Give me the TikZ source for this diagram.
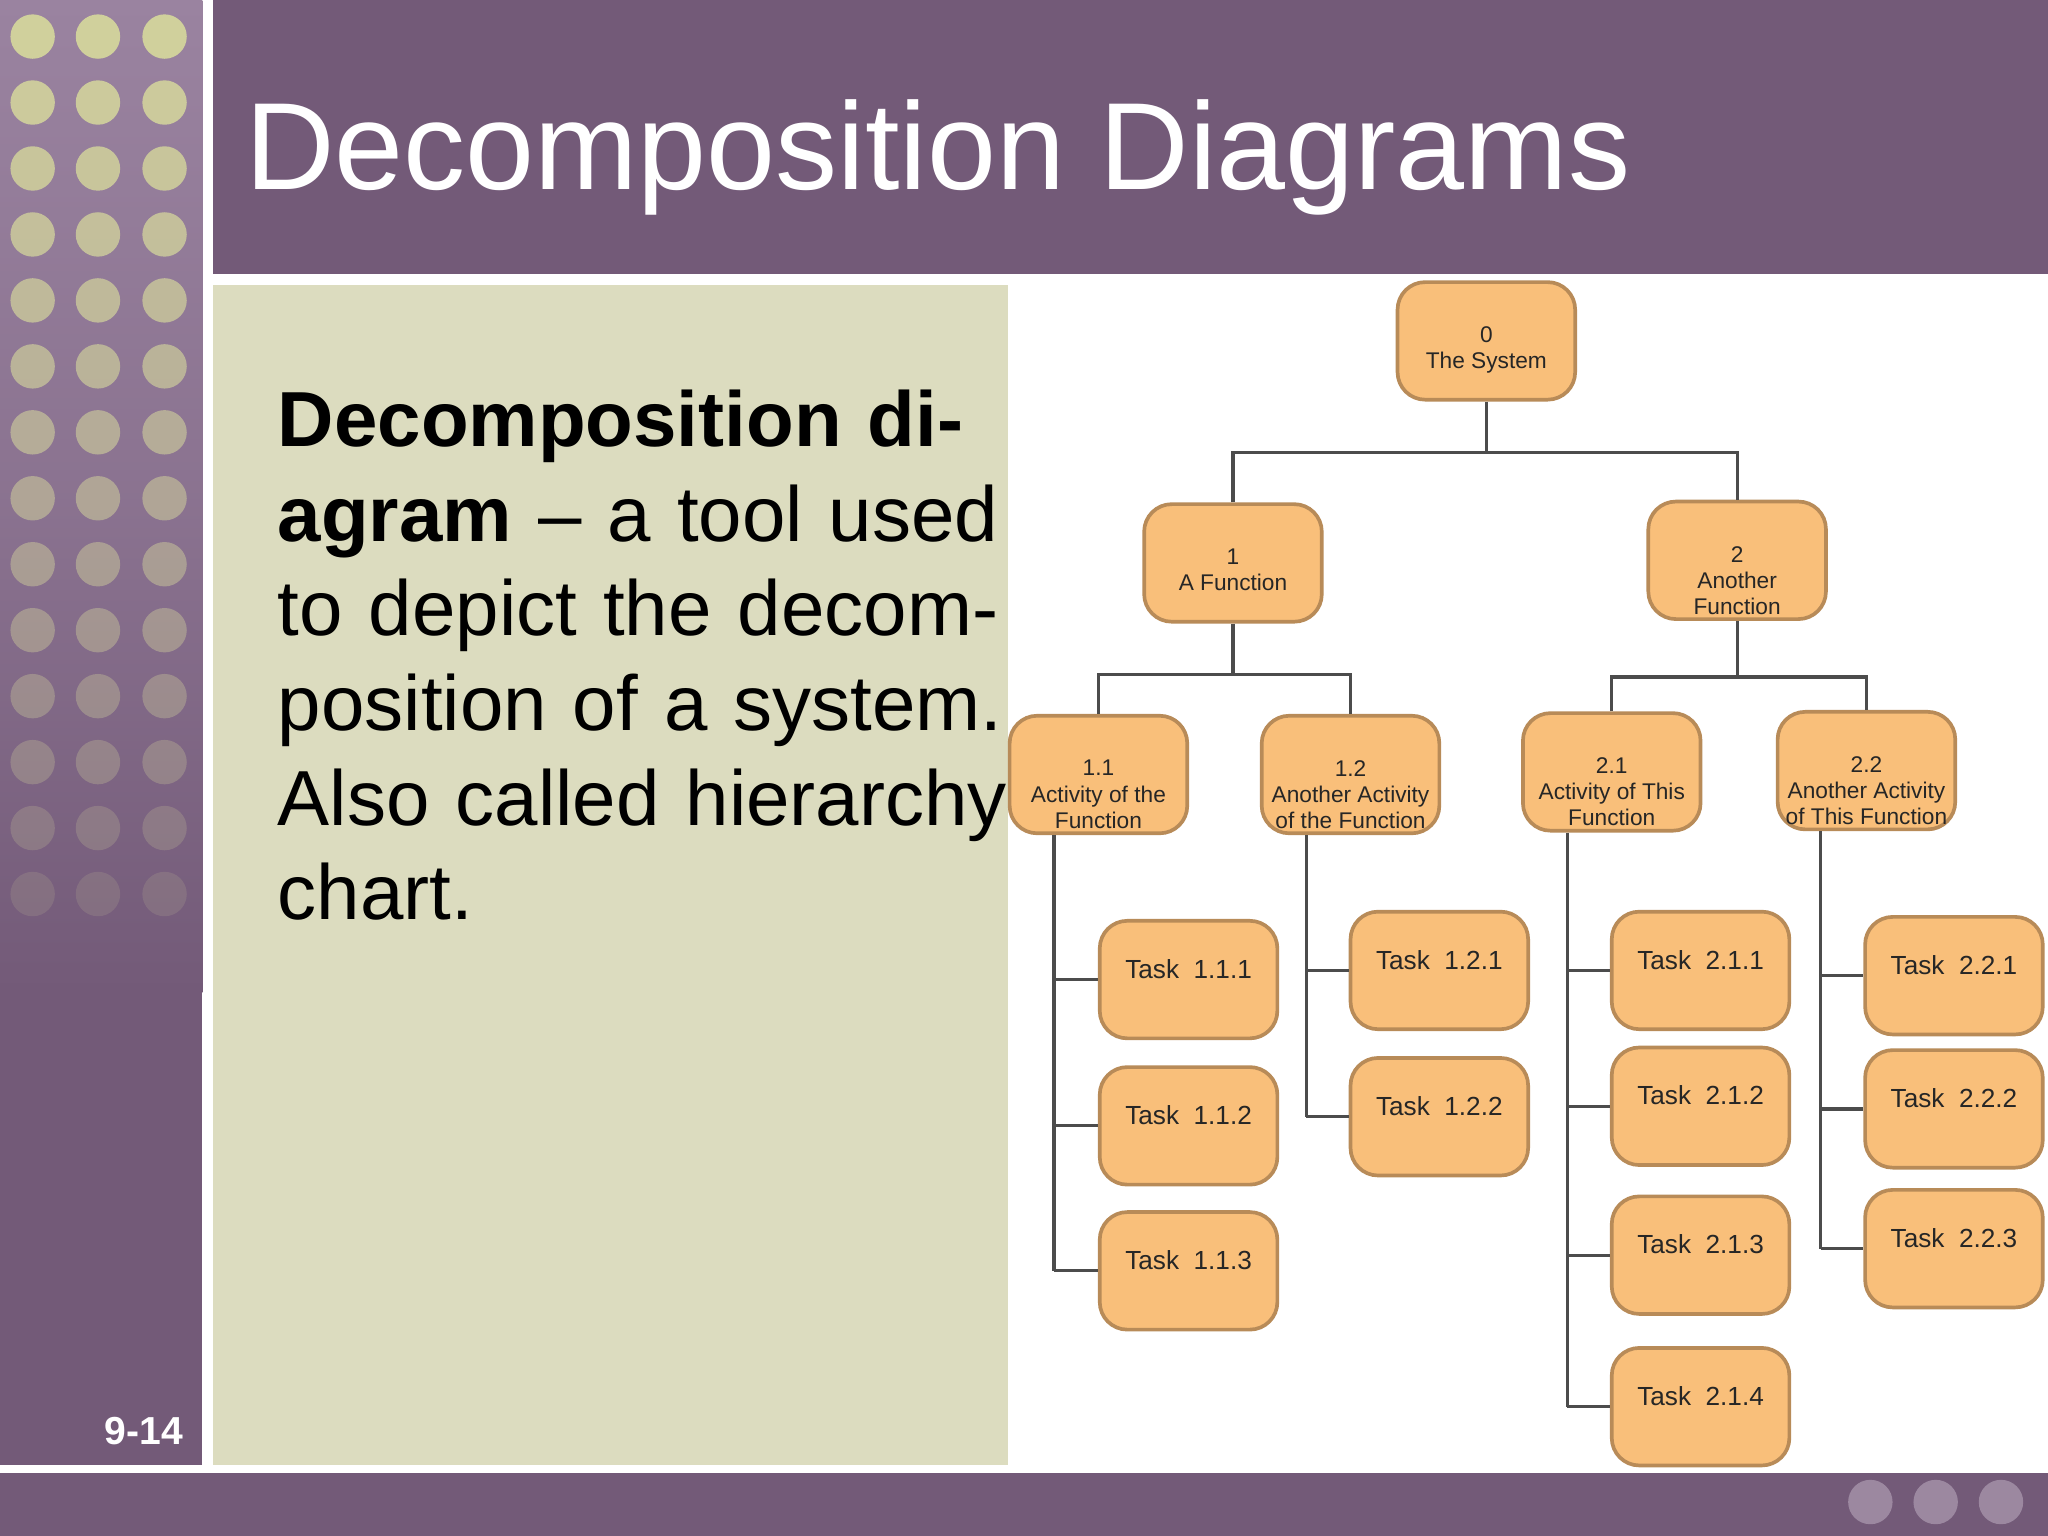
\documentclass[tikz,border=0pt]{standalone}
\usepackage{fontspec}
\setmainfont{Liberation Sans}
\begin{document}
\begin{tikzpicture}[x=0.01cm,y=-0.01cm,
  box/.style={draw=boxline,line width=0.8pt,fill=boxfill,rounded corners=6pt,minimum width=136*0.01cm,minimum height=90*0.01cm,inner sep=0pt},
  lbl/.style={font=\fontsize{5.2}{6}\selectfont,text=black!85,align=center,scale=0.95},
  tlbl/.style={font=\fontsize{6}{7}\selectfont,text=black!85,scale=0.95},
  conn/.style={draw=black!70,line width=0.7pt}]
\definecolor{purp}{HTML}{735A78}
\definecolor{purplt}{HTML}{9A83A0}
\definecolor{khaki}{HTML}{DCDCBF}
\definecolor{dot}{HTML}{D0D09C}
\definecolor{boxfill}{HTML}{F9BF7A}
\definecolor{boxline}{HTML}{B88B58}
\useasboundingbox (0,0) rectangle (1568,1176);
\fill[white] (0,0) rectangle (1568,1176);
% left strip
\shade[top color=purplt,bottom color=purp,middle color=purplt!60!purp] (0,0) rectangle (155,760);
\fill[purp] (0,760) rectangle (155,1122);
\foreach \r in {0,...,13}{
  \pgfmathsetmacro\op{1-\r*0.065}
  \foreach \c in {25,75,126}{
    \fill[dot,opacity=\op] (\c,{28+\r*50.5}) circle (17);
  }
}
% title bar
\fill[purp] (163,0) rectangle (1568,210);
\node[anchor=base west,text=white,font=\fontsize{27}{30}\selectfont,inner sep=0pt] (title) at (187,145) {Decomposition Diagrams};
% khaki box
\fill[khaki] (163,218) rectangle (772,1122);
\node[anchor=north west,align=left,inner sep=0pt,font=\fontsize{17}{20.6}\selectfont,text width=560*0.01cm] (body) at (212,298)
{\textbf{Decomposition diagram} -- a tool used to depict the decomposition of a system. Also called hierarchy chart.};
% bottom bar
\fill[purp] (0,1128) rectangle (1568,1176);
\foreach \c in {1432,1482,1532}{\fill[purplt!70!white,opacity=0.6] (\c,1150) circle (17);}
\node[text=white,font=\bfseries\fontsize{8.5}{10}\selectfont] (pg) at (110,1096) {9-14};
% boxes
\node[box] (n0) at (1138,261) {};
\node[lbl,anchor=north] at (n0.north) [yshift=-2.5mm] {0\\The System};
\node[box] (n1) at (944,431) {};
\node[lbl,anchor=north] at (n1.north) [yshift=-2.5mm] {1\\A Function};
\node[box] (n2) at (1330,429) {};
\node[lbl,anchor=north] at (n2.north) [yshift=-2.5mm] {2\\Another\\Function};
\node[box] (n11) at (841,593) {};
\node[lbl,anchor=north] at (n11.north) [yshift=-2.5mm] {1.1\\Activity of the\\Function};
\node[box] (n12) at (1034,593) {};
\node[lbl,anchor=north] at (n12.north) [yshift=-2.5mm] {1.2\\Another Activity\\of the Function};
\node[box] (n21) at (1234,591) {};
\node[lbl,anchor=north] at (n21.north) [yshift=-2.5mm] {2.1\\Activity of This\\Function};
\node[box] (n22) at (1429,590) {};
\node[lbl,anchor=north] at (n22.north) [yshift=-2.5mm] {2.2\\Another Activity\\of This Function};
% connectors
\draw[conn] (n0.south) -- ++(0,39) coordinate (j0);
\draw[conn] (n1.north) |- (j0) -| (n2.north);
\draw[conn] (n1.south) -- ++(0,39) coordinate (j1);
\draw[conn] (n11.north) |- (j1) -| (n12.north);
\draw[conn] (n2.south) -- ++(0,43) coordinate (j2);
\draw[conn] (n21.north) |- (j2) -| (n22.north);
% trunks
\draw[conn] (n11.south) ++(-34,0) -- (807,973);
\draw[conn] (n12.south) ++(-34,0) -- (1000,855);
\draw[conn] (n21.south) ++(-34,0) -- (1200,1077);
\draw[conn] (n22.south) ++(-35,0) -- (1394,956);
% tasks
\foreach \id/\nm/\cx/\lx/\cy in {a/1.1.1/910/807/750,b/1.1.2/910/807/862,c/1.1.3/910/807/973,
  d/1.2.1/1102/1000/743,e/1.2.2/1102/1000/855,
  f/2.1.1/1302/1200/743,g/2.1.2/1302/1200/847,h/2.1.3/1302/1200/961,i/2.1.4/1302/1200/1077,
  j/2.2.1/1496/1394/747,k/2.2.2/1496/1394/849,l/2.2.3/1496/1394/956}{
  \node[box] (t\id) at (\cx,\cy) {};
  \node[tlbl,anchor=north] at (t\id.north) [yshift=-2mm] {Task\ \ \nm};
  \draw[conn] (\lx,\cy) -- (t\id.west);
}
\end{tikzpicture}
\end{document}
